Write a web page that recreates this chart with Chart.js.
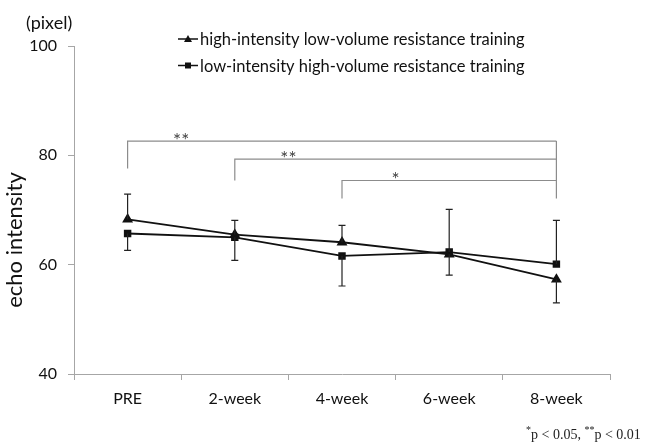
<!DOCTYPE html>
<html>
<head>
<meta charset="utf-8">
<script src="https://cdn.jsdelivr.net/npm/chart.js@4"></script>
<style>
  html, body { margin: 0; padding: 0; background: #fff; }
  #wrap { width: 647px; height: 446px; }
</style>
</head>
<body>
<div id="wrap"><canvas id="echo" width="647" height="446"></canvas></div>
<script>
var weeks = ["PRE", "2-week", "4-week", "6-week", "8-week"];
var hiLabel = "high-intensity low-volume resistance training";
var loLabel = "low-intensity high-volume resistance training";
var hiMean = [68.3, 65.5, 64.1, 61.9, 57.3];
var loMean = [65.7, 65.0, 61.6, 62.3, 60.1];
// SD drawn one way only: +1 up, -1 down
var hiSD = [4.6, 2.6, 3.1, 3.8, 4.3];
var hiDir = [1, 1, 1, -1, -1];
var loSD = [3.1, 4.2, 5.5, 7.8, 8.0];
var loDir = [-1, -1, -1, 1, 1];
var yTicks = [40, 60, 80, 100];
// significance brackets: from/to category index, bar level, left leg end, label
var sigFrom = [0, 1, 2];
var sigTo = [4, 4, 4];
var sigLevel = [82.6, 79.3, 75.4];
var sigLegEnd = [77.6, 75.4, 72.1];
var sigText = ["**", "**", "*"];

var FONT = "Lato, 'Open Sans', sans-serif";

var errorBars = {
  id: "errorBars",
  afterDatasetsDraw: function(chart) {
    var ctx = chart.ctx, x = chart.scales.x, y = chart.scales.y;
    var sets = [[hiMean, hiSD, hiDir], [loMean, loSD, loDir]];
    ctx.save();
    ctx.strokeStyle = "#222";
    ctx.lineWidth = 1.2;
    sets.forEach(function(s) {
      for (var i = 0; i < weeks.length; i++) {
        var px = x.getPixelForValue(i);
        var p0 = y.getPixelForValue(s[0][i]);
        var p1 = y.getPixelForValue(s[0][i] + s[1][i] * s[2][i]);
        ctx.beginPath();
        ctx.moveTo(px, p0); ctx.lineTo(px, p1);
        ctx.moveTo(px - 3.5, p1); ctx.lineTo(px + 3.5, p1);
        ctx.stroke();
      }
    });
    ctx.restore();
  }
};

var extras = {
  id: "extras",
  afterDraw: function(chart) {
    var ctx = chart.ctx, x = chart.scales.x, y = chart.scales.y;
    ctx.save();
    // brackets
    ctx.strokeStyle = "#8c8c8c";
    ctx.lineWidth = 1.2;
    var right = x.getPixelForValue(4);
    ctx.beginPath();
    ctx.moveTo(right, y.getPixelForValue(sigLevel[0]));
    ctx.lineTo(right, y.getPixelForValue(sigLegEnd[2]));
    for (var i = 0; i < sigFrom.length; i++) {
      var lx = x.getPixelForValue(sigFrom[i]);
      var rx = x.getPixelForValue(sigTo[i]);
      var ly = y.getPixelForValue(sigLevel[i]);
      ctx.moveTo(lx, y.getPixelForValue(sigLegEnd[i]));
      ctx.lineTo(lx, ly);
      ctx.lineTo(rx, ly);
    }
    ctx.stroke();
    ctx.fillStyle = "#444";
    ctx.font = "19px " + FONT;
    ctx.textAlign = "center";
    ctx.textBaseline = "alphabetic";
    for (var j = 0; j < sigText.length; j++) {
      var sx = (x.getPixelForValue(sigFrom[j]) + x.getPixelForValue(sigFrom[j] + 1)) / 2;
      ctx.fillText(sigText[j], sx, y.getPixelForValue(sigLevel[j]) + 6);
    }

    // legend
    var items = [[hiLabel, "triangle"], [loLabel, "rect"]];
    ctx.font = "16.5px " + FONT;
    ctx.textAlign = "left";
    ctx.textBaseline = "middle";
    ctx.fillStyle = "#111";
    items.forEach(function(it, k) {
      var cy = 39 + k * 26.5;
      ctx.strokeStyle = "#111";
      ctx.lineWidth = 1.5;
      ctx.beginPath();
      ctx.moveTo(178, cy); ctx.lineTo(198, cy);
      ctx.stroke();
      ctx.beginPath();
      if (it[1] === "triangle") {
        ctx.moveTo(188, cy - 4); ctx.lineTo(192, cy + 3); ctx.lineTo(184, cy + 3);
      } else {
        ctx.rect(185, cy - 3, 6, 6);
      }
      ctx.fill();
      ctx.fillText(it[0], 200, cy + 1);
    });

    // unit label
    ctx.font = "18px " + FONT;
    ctx.fillText("(pixel)", 26, 23);

    // axis title, set a bit below the plot centre as in the original
    ctx.save();
    ctx.translate(15, 240);
    ctx.rotate(-Math.PI / 2);
    ctx.textAlign = "center";
    ctx.font = "22px " + FONT;
    ctx.fillText("echo intensity", 0, 0);
    ctx.restore();

    // footnote with superscript stars
    ctx.fillStyle = "#222";
    ctx.textBaseline = "middle";
    var fx = 526, fy = 435;
    var parts = [["*", true], ["p < 0.05, ", false], ["**", true], ["p < 0.01", false]];
    parts.forEach(function(p) {
      if (p[1]) {
        ctx.font = "10px 'Liberation Serif', serif";
        ctx.fillText(p[0], fx, fy - 5);
      } else {
        ctx.font = "14px 'Liberation Serif', serif";
        ctx.fillText(p[0], fx, fy);
      }
      fx += ctx.measureText(p[0]).width;
    });
    ctx.restore();
  }
};

new Chart(document.getElementById("echo").getContext("2d"), {
  type: "line",
  data: {
    labels: weeks,
    datasets: [{
      label: hiLabel,
      data: hiMean,
      borderColor: "#111",
      backgroundColor: "#111",
      borderWidth: 1.8,
      pointStyle: "triangle",
      pointRadius: 4.5,
      tension: 0
    }, {
      label: loLabel,
      data: loMean,
      borderColor: "#111",
      backgroundColor: "#111",
      borderWidth: 1.8,
      pointStyle: "rect",
      pointRadius: 4,
      tension: 0
    }]
  },
  options: {
    responsive: false,
    animation: false,
    layout: { padding: { top: 46, right: 37, left: 0, bottom: 0 } },
    plugins: { legend: { display: false }, tooltip: { enabled: false } },
    scales: {
      x: {
        offset: true,
        grid: { offset: true, drawOnChartArea: false, color: "#a6a6a6", tickLength: 6 },
        border: { color: "#a6a6a6" },
        ticks: { color: "#111", font: { family: FONT, size: 16 }, padding: 9 },
        afterFit: function(s) { s.height = 72; }
      },
      y: {
        min: 40, max: 100,
        afterBuildTicks: function(s) { s.ticks = yTicks.map(function(v) { return { value: v }; }); },
        grid: { drawOnChartArea: false, color: "#a6a6a6", tickLength: 6 },
        border: { color: "#a6a6a6" },
        ticks: { color: "#111", font: { family: FONT, size: 16 }, padding: 11 },
        afterFit: function(s) { s.width = 74; }
      }
    }
  },
  plugins: [errorBars, extras]
});
</script>
</body>
</html>
